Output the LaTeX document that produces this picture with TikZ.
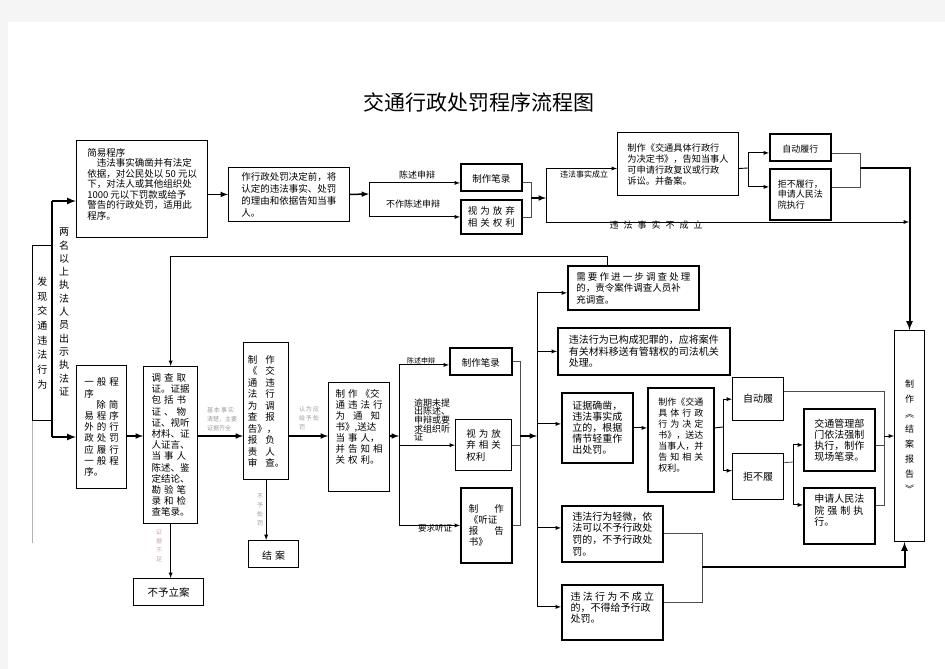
\documentclass[tikz,border=0pt]{standalone}
\usepackage{fontspec}
\newfontfamily\cjk{Noto Sans CJK SC}
\definecolor{notegray}{RGB}{160,155,155}
\definecolor{notepink}{RGB}{200,165,175}
\newcommand{\kg}{\hspace{3pt}}
\newcommand{\kk}{\hspace{8pt}}
\begin{document}
\begin{tikzpicture}[x=1pt, y=-1pt, -latex, line width=0.9pt,
		box/.style ={draw, rectangle, anchor=north west, inner sep=1pt, line width=1.3pt,
			align=left, font=\cjk\fontsize{9.5}{11.2}\selectfont},
		lbl/.style ={inner sep=0pt, align=left, font=\cjk\fontsize{9}{10}\selectfont},
		note/.style ={inner sep=0pt, align=left, text=notegray, font=\cjk\fontsize{6}{9}\selectfont},
		merge/.style ={-, line width=0.8pt, black!70},
		trunk/.style ={line width=2pt}]
	\useasboundingbox (0,0) rectangle (945,669);
	\fill[-, black!4] (0,0) rectangle (945,669);
	\fill[-, white] (8,22) rectangle (945,669);
	\node[lbl, font=\cjk\fontsize{21}{24}\selectfont] (title) at (479,102) {交通行政处罚程序流程图};
	% left column
	\node[box, line width=0.8pt, minimum width=20, minimum height=175, align=center,
		font=\cjk\fontsize{10}{14.7}\selectfont] (faxian) at (32,245) {发\\现\\交\\通\\违\\法\\行\\为};
	\node[lbl, align=center, font=\cjk\fontsize{10}{13.3}\selectfont] (liangming) at (64,312)
		{两\\名\\以\\上\\执\\法\\人\\员\\出\\示\\执\\法\\证};
	\node[box, minimum width=131, minimum height=97, font=\cjk\fontsize{9.5}{10.5}\selectfont] (jianyi) at (76,140)
		{简易程序\\\hspace{9.5pt}违法事实确凿并有法定\\依据，对公民处以 50 元以\\下，对法人或其他组织处\\1000 元以下罚款或给予\\警告的行政处罚，适用此\\程序。\\\mbox{}};
	\node[box, line width=0.9pt, minimum width=121, minimum height=54, font=\cjk\fontsize{9.5}{12}\selectfont] (zuoxz) at (228,167)
		{作行政处罚决定前，将\\认定的违法事实、处罚\\的理由和依据告知当事\\人。};
	% top row
	\node[box, line width=1.8pt, minimum width=61, minimum height=27, align=center] (bilu1) at (460,163) {\mbox{}\\制作笔录};
	\node[box, line width=1.8pt, minimum width=61, minimum height=34] (shiwei1) at (460,199) {视\kg 为\kg 放\kg 弃\\相\kg 关\kg 权\kg 利};
	\node[lbl] (chenshu1) at (417,175) {陈述申辩};
	\node[lbl] (buzuo) at (413,204) {不作陈述申辩};
	\node[box, line width=1pt, minimum width=121, minimum height=63, font=\cjk\fontsize{9.2}{11}\selectfont] (jueding1) at (617,132)
		{制作《交通具体行政行\\为决定书》，告知当事人\\可申请行政复议或行政\\诉讼。并备案。};
	\node[lbl, font=\cjk\fontsize{8}{9}\selectfont] (chengli) at (584,174) {违法事实成立};
	\node[lbl] (bucl) at (656,225) {违\hspace{5pt}法\hspace{5pt}事\hspace{5pt}实\hspace{5pt}不\hspace{5pt}成\hspace{5pt}立};
	\node[box, line width=1.8pt, minimum width=61, minimum height=27, align=center, font=\cjk\fontsize{9}{10}\selectfont] (zidong1) at (769,133) {\mbox{}\\自动履行};
	\node[box, line width=1.8pt, minimum width=61, minimum height=51, font=\cjk\fontsize{9}{10.5}\selectfont] (jubu1) at (769,168) {拒不履行，\\申请人民法\\院执行};
	\node[box, line width=1pt, minimum width=30, minimum height=211, align=center, font=\cjk\fontsize{9}{15}\selectfont] (jiean) at (894,330)
		{制\\作\\︽\\结\\案\\报\\告\\︾};
	% middle row
	\node[box, minimum width=50, minimum height=123] (yiban) at (76,365)
		{一\kg 般\kg 程\\序\\\hspace{12pt}除\kg 简\\易\kg 程\kg 序\\外\kg 的\kg 行\\政\kg 处\kg 罚\\应\kg 履\kg 行\\一\kg 般\kg 程\\序。};
	\node[box, minimum width=54, minimum height=157] (diaocha) at (143,366)
		{调\kg 查\kg 取\\证。证据\\包\kg 括\kg 书\\证\kg 、\kg 物\\证、视听\\材料、证\\人证言、\\当\kg 事\kg 人\\陈述、鉴\\定结论、\\勘\kg 验\kg 笔\\录\kg 和\kg 检\\查笔录。};
	\node[box, minimum width=45, minimum height=137, font=\cjk\fontsize{9.5}{11.5}\selectfont] (baogao) at (243,342)
		{制\kk 作\\《\kk 交\\通\kk 违\\法\kk 行\\为\kk 调\\查\kk 报\\告》，\\报\kk 负\\责\kk 人\\审\kk 查。};
	\node[box, line width=1pt, minimum width=50, minimum height=27, align=center, font=\cjk\fontsize{10}{11}\selectfont] (jiean1) at (248,540) {\mbox{}\\结\kg 案};
	\node[box, line width=1pt, minimum width=70, minimum height=27, font=\cjk\fontsize{10.5}{12}\selectfont] (buyulian) at (133,578) {不予立案};
	\node[box, minimum width=61, minimum height=109, font=\cjk\fontsize{9.5}{11}\selectfont] (tongzhi) at (328,382)
		{制\kg 作\kg 《交\\通\kg 违\kg 法\kg 行\\为\kk 通\kk 知\\书》,送达\\当\kg 事\kg 人，\\并\kg 告\kg 知\kg 相\\关\kg 权\kg 利。\\\mbox{}\\\mbox{}};
	\node[note] (jiben) at (222,419) {基\,本\,事\,实\\清楚，主要\\证据齐全};
	\node[note] (renwei) at (309,418) {认\,为\,应\\给\,予\,处\\罚};
	\node[note, align=center] (buyu) at (260,510) {不\\予\\处\\罚};
	\node[note, align=center, text=notepink] (zhengju) at (159,546) {证\\据\\不\\足};
	\node[box, line width=1.8pt, minimum width=62, minimum height=27, align=center] (bilu2) at (449,347) {\mbox{}\\制作笔录};
	\node[box, minimum width=56, minimum height=51, font=\cjk\fontsize{9.5}{11.5}\selectfont] (shiwei2) at (455,419) {视\kg 为\kg 放\\弃\kg 相\kg 关\\权利};
	\node[box, line width=1.8pt, minimum width=51, minimum height=75, font=\cjk\fontsize{9.5}{11}\selectfont] (tingzheng) at (460,487)
		{制\hspace{16pt}作\\《听证\\报\hspace{16pt}告\\书》};
	\node[lbl, font=\cjk\fontsize{7}{8}\selectfont] (chenshu2) at (421,361) {陈述申辩};
	\node[lbl, font=\cjk\fontsize{9}{8.6}\selectfont] (yuqi) at (432,420) {逾期未提\\出陈述、\\申辩或要\\求组织听\\证};
	\node[lbl, font=\cjk\fontsize{8.5}{9}\selectfont] (yaoqiu) at (435,528) {要求听证};
	% right part
	\node[box, line width=1.8pt, minimum width=131, minimum height=44, font=\cjk\fontsize{9.5}{11.5}\selectfont] (jinyibu) at (567,265)
		{需 要 作 进 一 步 调 查 处 理\\的，责令案件调查人员补\\充调查。};
	\node[box, line width=1.8pt, minimum width=172, minimum height=47, font=\cjk\fontsize{10}{11.5}\selectfont] (fanzui) at (557,327)
		{违法行为已构成犯罪的，应将案件\\有关材料移送有管辖权的司法机关\\处理。};
	\node[box, line width=1.8pt, minimum width=71, minimum height=70, font=\cjk\fontsize{10}{11}\selectfont] (queza) at (561,392)
		{证据确凿，\\违法事实成\\立的，根据\\情节轻重作\\出处罚。};
	\node[box, line width=1.8pt, minimum width=66, minimum height=104, font=\cjk\fontsize{9}{11}\selectfont] (jueding2) at (647,387)
		{制作《交通\\具\kg 体\kg 行\kg 政\\行\kg 为\kg 决\kg 定\\书》，送达\\当事人，并\\告\kg 知\kg 相\kg 关\\权利。\\\mbox{}};
	\node[box, line width=1.3pt, minimum width=51, minimum height=43, font=\cjk\fontsize{10}{11}\selectfont] (zidong2) at (732,377) {自动履};
	\node[box, line width=1.3pt, minimum width=51, minimum height=46, font=\cjk\fontsize{10}{11}\selectfont] (jubu2) at (732,453) {拒不履};
	\node[box, line width=1.8pt, minimum width=71, minimum height=62, font=\cjk\fontsize{10}{11}\selectfont] (qiangzhi) at (803,408)
		{交通管理部\\门依法强制\\执行，制作\\现场笔录。};
	\node[box, line width=1.8pt, minimum width=71, minimum height=56, font=\cjk\fontsize{10}{11.5}\selectfont] (fayuan) at (803,487)
		{申请人民法\\院\kg 强\kg 制\kg 执\\行。\\\mbox{}};
	\node[box, line width=1.8pt, minimum width=101, minimum height=56, font=\cjk\fontsize{10}{11.8}\selectfont] (qingwei) at (561,505)
		{违法行为轻微，依\\法可以不予行政处\\罚的，不予行政处\\罚。};
	\node[box, line width=1.8pt, minimum width=101, minimum height=55, font=\cjk\fontsize{10}{11}\selectfont] (buchengli) at (561,584)
		{违 法 行 为 不 成 立\\的，不得给予行政\\处罚。\\\mbox{}};
	% connectors, left
	\coordinate (row) at (0,436);
	\coordinate (s1) at (52,201);
	\coordinate (s2) at (52,437);
	\draw[-, line width=0.5pt, black!30] (faxian.south west) -- ++(0,122);
	\draw[trunk, -] (s1) -- (s2);
	\draw[trunk] (s1) -- (s1 -| jianyi.west);
	\draw[trunk] (s2) -- (s2 -| yiban.west);
	\draw[line width=1.5pt] (zuoxz.west -| jianyi.east) -- (zuoxz.west);
	% top row
	\coordinate (f1) at (369,194);
	\coordinate (f2) at (531,198);
	\coordinate (f3) at (546,198);
	\coordinate (f4) at (748,168);
	\coordinate (f5) at (860,168);
	\coordinate (f6) at (909,222);
	\draw[line width=1.5pt] (zuoxz.east) -- (f1);
	\draw (f1) |- ([yshift=-5.5pt]bilu1.west);
	\draw (f1) |- (shiwei1.west);
	\draw[merge] ([yshift=-4.5pt]bilu1.east) -| (f2);
	\draw[merge] (shiwei1.east) -| (f2);
	\draw[line width=1.5pt] (f2) -- (f3);
	\draw (f3) |- ([yshift=-4.5pt]jueding1.west);
	\draw (f3) |- (f6);
	\draw[-] ([yshift=-4.5pt]jueding1.east) -- (f4);
	\draw (f4) |- ([yshift=-5.5pt]zidong1.west);
	\draw (f4) |- ([yshift=7.5pt]jubu1.west);
	\draw[merge] ([yshift=-5.5pt]zidong1.east) -| (f5);
	\draw[merge] ([yshift=7.5pt]jubu1.east) -| (f5);
	\draw[trunk] (f5) -| (jiean.north);
	% back to investigation
	\draw ([xshift=-25.5pt]jinyibu.north) -- ++(0,-9) -| (diaocha.north);
	% middle row
	\draw[line width=1.5pt] (yiban.east |- row) -- (diaocha.west |- row);
	\draw[line width=1.5pt] (diaocha.east |- row) -- (baogao.west |- row);
	\draw[line width=1.5pt] (baogao.east |- row) -- (tongzhi.west |- row);
	\draw (diaocha.south) -- (diaocha.south |- buyulian.north);
	\draw (baogao.south) -- (baogao.south |- jiean1.north);
	\coordinate (g1) at (399,436);
	\coordinate (g2) at (520,436);
	\coordinate (g3) at (537,436);
	\draw[line width=1.5pt] (tongzhi.east |- row) -- (g1);
	\draw (g1) |- ([yshift=-3.5pt]bilu2.west);
	\draw (g1) |- (shiwei2.west);
	\draw (g1) |- (tingzheng.west);
	\draw[merge] (bilu2.east) -| (g2);
	\draw[merge] (shiwei2.east) -| (g2);
	\draw[merge] (tingzheng.east) -| (g2);
	\draw[line width=1.5pt] (g2) -- (g3);
	\draw (g3) |- ([yshift=-5pt]jinyibu.west);
	\draw (g3) |- (fanzui.west);
	\draw (g3) |- ([yshift=4pt]queza.west);
	\draw (g3) |- ([yshift=6pt]qingwei.west);
	\draw (g3) |- ([yshift=5.5pt]buchengli.west);
	% decision and execution
	\coordinate (h1) at (723,427);
	\coordinate (h2) at (793,462);
	\coordinate (h3) at (884,436);
	\coordinate (k1) at (702,567);
	\draw (queza.east) -- (queza.east -| jueding2.west);
	\draw[-] (queza.east -| jueding2.east) -- (h1);
	\draw (h1) |- (zidong2.west);
	\draw (h1) |- ([yshift=6pt]jubu2.west);
	\draw[merge] ([yshift=14pt]jubu2.east) -- (h2);
	\draw (h2) |- ([yshift=-5pt]qiangzhi.west);
	\draw (h2) |- ([yshift=11pt]fayuan.west);
	\draw[merge] ([yshift=7.5pt]zidong2.east) -| (h3);
	\draw[merge] ([yshift=-5pt]qiangzhi.east) -| (h3);
	\draw[merge] ([yshift=11pt]fayuan.east) -| (h3);
	\draw (h3) -- (h3 -| jiean.west);
	\draw[merge] ([yshift=1pt]qingwei.east) -| (k1);
	\draw[merge] ([yshift=10.5pt]buchengli.east) -| (k1);
	\draw[trunk] (k1) -| ([xshift=-5pt]jiean.south);
\end{tikzpicture}
\end{document}
